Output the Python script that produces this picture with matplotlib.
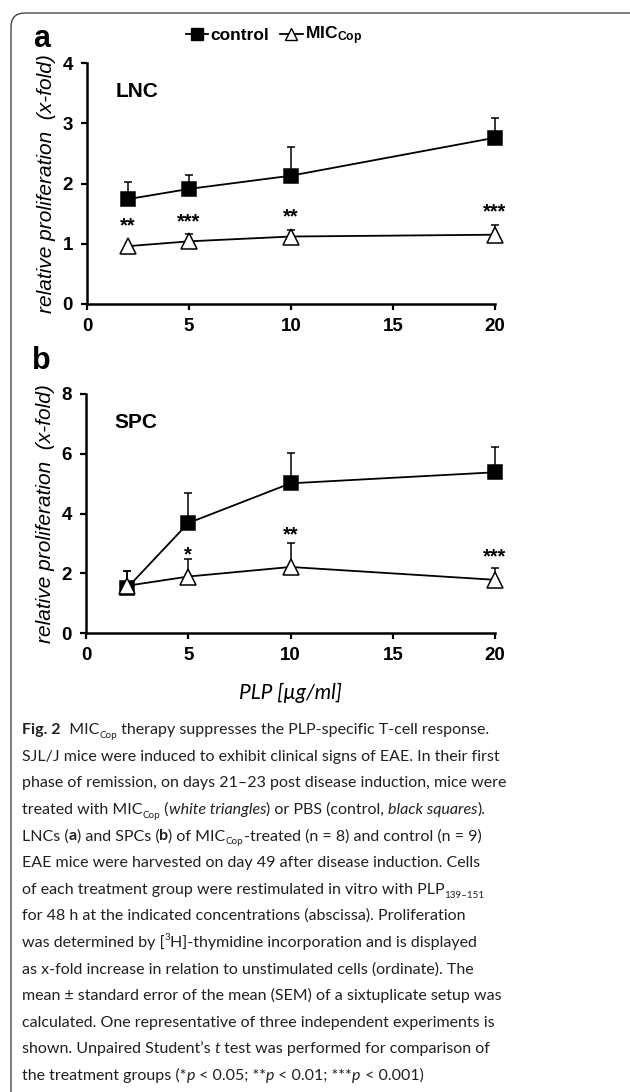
import matplotlib
matplotlib.use("Agg")
import matplotlib.pyplot as plt
from matplotlib.lines import Line2D
from matplotlib.patches import FancyBboxPatch

plt.rcParams['font.family'] = ['Liberation Sans', 'DejaVu Sans']
plt.rcParams['mathtext.fontset'] = 'custom'
plt.rcParams['mathtext.sf'] = 'Liberation Sans:bold'

# concentrations of PLP (µg/ml)
conc = [2, 5, 10, 20]

# panel a - lymph node cells
lnc_control = [1.74, 1.91, 2.13, 2.76]
lnc_control_err = [0.28, 0.23, 0.47, 0.33]
lnc_mic = [0.96, 1.04, 1.12, 1.15]
lnc_mic_err = [0.0, 0.13, 0.10, 0.16]
lnc_stars = ['**', '***', '**', '***']
lnc_star_y = [1.30, 1.36, 1.45, 1.53]

# panel b - spleen cells
spc_control = [1.50, 3.68, 5.01, 5.38]
spc_control_err = [0.56, 1.02, 1.03, 0.86]
spc_mic = [1.58, 1.89, 2.21, 1.78]
spc_mic_err = [0.48, 0.59, 0.80, 0.39]
spc_stars = ['', '*', '**', '***']
spc_star_y = [0, 2.62, 3.30, 2.55]

W, H = 630, 1092
fig = plt.figure(figsize=(W / 100, H / 100), dpi=100)
fig.patch.set_facecolor('white')


def px_box(left, top, right, bottom):
    return [left / W, 1 - bottom / H, (right - left) / W, (bottom - top) / H]


def draw_panel(ax, ctrl, ctrl_err, mic, mic_err, stars, star_y, ymax, yticks, name):
    for vals, errs, mk, fc, z in [(ctrl, ctrl_err, 's', 'black', 3), (mic, mic_err, '^', 'white', 4)]:
        lines = ax.errorbar(conc, vals, yerr=[[0] * len(vals), errs], color='black', lw=1.3,
                            marker=mk, ms=11 if mk == '^' else 10, mfc=fc, mec='black', mew=1.1,
                            elinewidth=1.1, capsize=3, capthick=1.1, zorder=z)
        for art in lines.get_children():
            art.set_clip_on(False)
    for x, s, y in zip(conc, stars, star_y):
        if s:
            ax.text(x, y, s, ha='center', va='center', fontsize=14.5, fontweight='bold')
    ax.set_xlim(0, 20)
    ax.set_ylim(0, ymax)
    ax.set_xticks([0, 5, 10, 15, 20])
    ax.set_yticks(yticks)
    for side in ['top', 'right']:
        ax.spines[side].set_visible(False)
    for side in ['left', 'bottom']:
        ax.spines[side].set_linewidth(1.8)
    ax.tick_params(direction='out', length=4, width=1.6, labelsize=13.5, pad=6)
    for lab in ax.get_xticklabels() + ax.get_yticklabels():
        lab.set_fontweight('bold')
    ax.set_ylabel('relative proliferation  (x-fold)', fontsize=15, style='italic', labelpad=5)
    ax.text(0.07, 0.88, name, transform=ax.transAxes, fontsize=15, fontweight='bold',
            va='center')
    ax.set_facecolor('none')


ax_a = fig.add_axes(px_box(87, 63, 495, 304))
draw_panel(ax_a, lnc_control, lnc_control_err, lnc_mic, lnc_mic_err,
           lnc_stars, lnc_star_y, 4, [0, 1, 2, 3, 4], 'LNC')

ax_b = fig.add_axes(px_box(86, 394, 495, 633))
draw_panel(ax_b, spc_control, spc_control_err, spc_mic, spc_mic_err,
           spc_stars, spc_star_y, 8, [0, 2, 4, 6, 8], 'SPC')
ax_b.set_xlabel('PLP [µg/ml]', fontsize=15, style='italic', family='Lato', labelpad=14)

fig.text(42 / W, 1 - 39 / H, 'a', fontsize=22, fontweight='bold', ha='center', va='center')
fig.text(41 / W, 1 - 361 / H, 'b', fontsize=22, fontweight='bold', ha='center', va='center')

handles = [
    Line2D([], [], color='black', lw=1.3, marker='s', ms=9, mfc='black'),
    Line2D([], [], color='black', lw=1.3, marker='^', ms=9, mfc='white', mew=1.0),
]
fig.legend(handles, ['control', r'$\mathsf{MIC_{Cop}}$'], loc='center',
           bbox_to_anchor=(274 / W, 1 - 36 / H), ncol=2, frameon=False,
           handlelength=1.3, handletextpad=0.15, columnspacing=0.6,
           prop={'weight': 'bold', 'size': 12.5})

# rounded frame around figure and caption
frame = FancyBboxPatch((11 / 100, -0.3), 7.0, (H - 13) / 100 + 0.3,
                       boxstyle='round,pad=0,rounding_size=0.14',
                       transform=fig.dpi_scale_trans, fc='none', ec='#333333', lw=0.9)
fig.patches.append(frame)

# caption, drawn piece by piece
R, B, I, SUB, SUP = 'r', 'b', 'i', 'sub', 'sup'
caption = [
    [("Fig. 2", B), ("  MIC", R), ("Cop", SUB), (" therapy suppresses the PLP-specific T-cell response.", R)],
    [("SJL/J mice were induced to exhibit clinical signs of EAE. In their first", R)],
    [("phase of remission, on days 21–23 post disease induction, mice were", R)],
    [("treated with MIC", R), ("Cop", SUB), (" (", R), ("white triangles", I), (") or PBS (control, ", R),
     ("black squares", I), (").", R)],
    [("LNCs (", R), ("a", B), (") and SPCs (", R), ("b", B), (") of MIC", R), ("Cop", SUB),
     ("-treated (n = 8) and control (n = 9)", R)],
    [("EAE mice were harvested on day 49 after disease induction. Cells", R)],
    [("of each treatment group were restimulated in vitro with PLP", R), ("139–151", SUB)],
    [("for 48 h at the indicated concentrations (abscissa). Proliferation", R)],
    [("was determined by [", R), ("3", SUP), ("H]-thymidine incorporation and is displayed", R)],
    [("as x-fold increase in relation to unstimulated cells (ordinate). The", R)],
    [("mean ± standard error of the mean (SEM) of a sixtuplicate setup was", R)],
    [("calculated. One representative of three independent experiments is", R)],
    [("shown. Unpaired Student’s ", R), ("t", I), (" test was performed for comparison of", R)],
    [("the treatment groups (*", R), ("p", I), (" < 0.05; **", R), ("p", I), (" < 0.01; ***", R),
     ("p", I), (" < 0.001)", R)],
]

cap_font = 'Lato'
cap_size = 11.5
cap_color = '#231f20'
x0 = 22
y0 = 734
line_step = 26.6

renderer = fig.canvas.get_renderer()
for i, line in enumerate(caption):
    x = x0
    base = y0 + i * line_step
    for txt, st in line:
        size = cap_size
        y = base
        kw = {}
        if st == B:
            kw['fontweight'] = 'bold'
        if st == I:
            kw['style'] = 'italic'
        if st == SUB:
            size = cap_size * 0.62
            y = base + 4
        if st == SUP:
            size = cap_size * 0.62
            y = base - 7
        t = fig.text(x / W, 1 - y / H, txt, fontsize=size, family=cap_font,
                     color=cap_color, va='baseline', ha='left', **kw)
        bb = t.get_window_extent(renderer=renderer)
        x += bb.width

fig.savefig('out.png', dpi=100, facecolor='white')
